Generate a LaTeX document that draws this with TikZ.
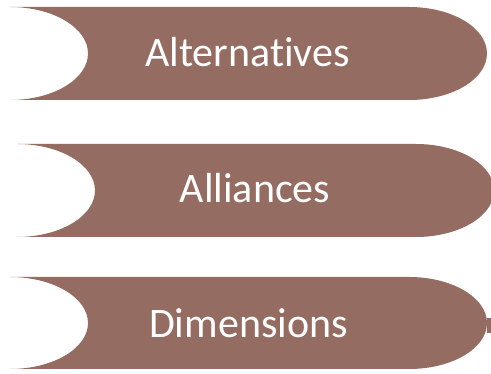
\documentclass[tikz,border=0pt]{standalone}
\usepackage{fontspec}
\setmainfont[Ligatures={NoCommon}]{Carlito}
\definecolor{bandbrown}{RGB}{148,108,97}
\begin{document}
\begin{tikzpicture}[x=1pt,y=1pt,
  band/.style={fill=bandbrown,draw=none},
  bandtext/.style={text=white,font=\fontsize{42}{48}\selectfont,inner sep=0pt,anchor=base}]
\useasboundingbox (0,0) rectangle (491,374);
\clip (0,0) rectangle (491,374);
% band 1
\fill[band] (10,367) -- (409,367) arc[start angle=90,end angle=-90,x radius=78,y radius=46.5]
  -- (10,274) arc[start angle=-90,end angle=90,x radius=78,y radius=46.5] -- cycle;
% band 2
\fill[band] (17,230) -- (416,230) arc[start angle=90,end angle=-90,x radius=78,y radius=46.5]
  -- (17,137) arc[start angle=-90,end angle=90,x radius=78,y radius=46.5] -- cycle;
% band 3
\fill[band] (10,97) -- (409,97) arc[start angle=90,end angle=-90,x radius=78,y radius=46]
  -- (10,5) arc[start angle=-90,end angle=90,x radius=78,y radius=46] -- cycle;
\fill[band] (487,41) rectangle (491,56);
\node[bandtext] (t1) at (247.5,307) {Alternatives};
\node[bandtext] (t2) at (255,171) {Alliances};
\node[bandtext] (t3) at (248.5,36) {Dimensions};
\end{tikzpicture}
\end{document}
